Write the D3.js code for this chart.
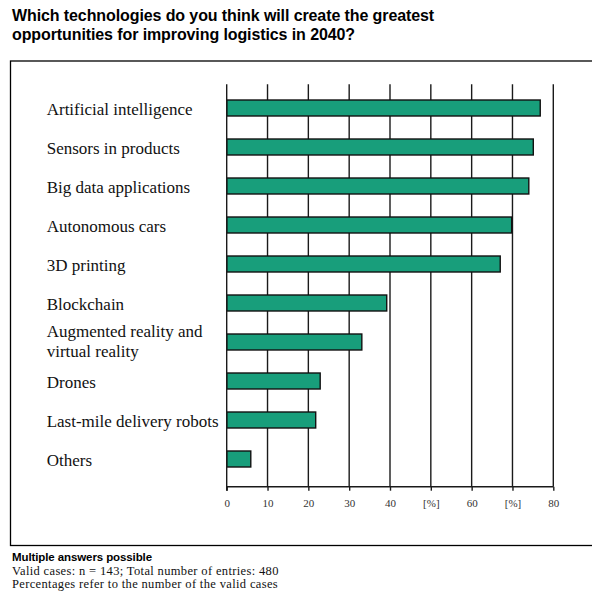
<!DOCTYPE html>
<html><head><meta charset="utf-8">
<script src="https://cdn.jsdelivr.net/npm/d3@7"></script>
<style>body{margin:0;background:#fff}svg{display:block}</style>
</head><body>
<svg id="c" width="592" height="596"></svg>
<script>
const categories = ["Artificial intelligence","Sensors in products","Big data applications","Autonomous cars","3D printing","Blockchain","Augmented reality and\nvirtual reality","Drones","Last-mile delivery robots","Others"];
const values = [76.8, 75.1, 74.0, 69.8, 67.0, 39.2, 33.1, 22.9, 21.8, 5.9];
const tickValues = [0,10,20,30,40,50,60,70,80];
const tickLabels = ["0","10","20","30","40","[%]","60","[%]","80"];
const titleLines = ["Which technologies do you think will create the greatest","opportunities for improving logistics in 2040?"];
const notes = ["Valid cases: n = 143; Total number of entries: 480","Percentages refer to the number of the valid cases"];

const svg = d3.select("#c");
// title
svg.append("g").selectAll("text").data(titleLines).join("text")
  .attr("x", 12).attr("y", (d,i)=>21+i*19)
  .attr("font-family","Liberation Sans, Arial, sans-serif").attr("font-weight","bold")
  .attr("font-size",16).attr("letter-spacing",-0.1).attr("fill","#000").text(d=>d);

// frame
svg.append("rect").attr("x",10.5).attr("y",61).attr("width",590).attr("height",484.5)
  .attr("fill","none").attr("stroke","#000").attr("stroke-width",1.3);

const x = d3.scaleLinear().domain([0,80]).range([226.7,553.3]);
const y = d3.scaleBand().domain(categories).range([88.5,478.5]).paddingInner(0.59).paddingOuter(0.295);

// gridlines
svg.append("g").selectAll("line").data(tickValues.slice(1)).join("line")
  .attr("x1",d=>x(d)).attr("x2",d=>x(d)).attr("y1",84.3).attr("y2",486.7)
  .attr("stroke","#1a1a1a").attr("stroke-width",1.4);

// bars
svg.append("g").selectAll("rect").data(values).join("rect")
  .attr("x",x(0)).attr("y",(d,i)=>y(categories[i]))
  .attr("width",d=>x(d)-x(0)).attr("height",y.bandwidth())
  .attr("fill","#189e7b").attr("stroke","#111").attr("stroke-width",1.4);

// axis
const ax = svg.append("g").attr("transform","translate(0,486.7)")
  .call(d3.axisBottom(x).tickValues(tickValues).tickFormat((d,i)=>tickLabels[i]).tickSize(4).tickPadding(9));
ax.select(".domain").attr("stroke","#1a1a1a").attr("stroke-width",1.4).attr("d",`M${x(0)},0H${x(80)}`);
ax.selectAll(".tick line").attr("stroke","#1a1a1a").attr("stroke-width",1.4);
ax.selectAll(".tick text").attr("font-family","Liberation Serif, Times New Roman, serif").attr("font-size",11).attr("fill","#333");
// left axis line
svg.append("line").attr("x1",x(0)).attr("x2",x(0)).attr("y1",84.3).attr("y2",490.7)
  .attr("stroke","#1a1a1a").attr("stroke-width",1.4);

// category labels
const lab = svg.append("g").selectAll("text").data(categories).join("text")
  .attr("font-family","Liberation Serif, Times New Roman, serif").attr("font-size",17).attr("fill","#111");
lab.each(function(d){
  const lines = d.split("\n");
  const cy = y(d)+y.bandwidth()/2;
  const t = d3.select(this);
  lines.forEach((l,j)=>{
    t.append("tspan").attr("x",46.7)
      .attr("y", lines.length===1 ? cy+7 : cy-5+j*19.5).text(l);
  });
});

// footer
svg.append("text").attr("x",12).attr("y",560.5).attr("font-family","Liberation Sans, Arial, sans-serif")
  .attr("font-weight","bold").attr("font-size",11.5).attr("letter-spacing",-0.1).text("Multiple answers possible");
svg.append("g").selectAll("text").data(notes).join("text")
  .attr("x",12).attr("y",(d,i)=>574.5+i*13.5).attr("font-family","Liberation Serif, Times New Roman, serif")
  .attr("font-size",12.5).attr("letter-spacing",0.35).attr("fill","#111").text(d=>d);
</script>
</body></html>
